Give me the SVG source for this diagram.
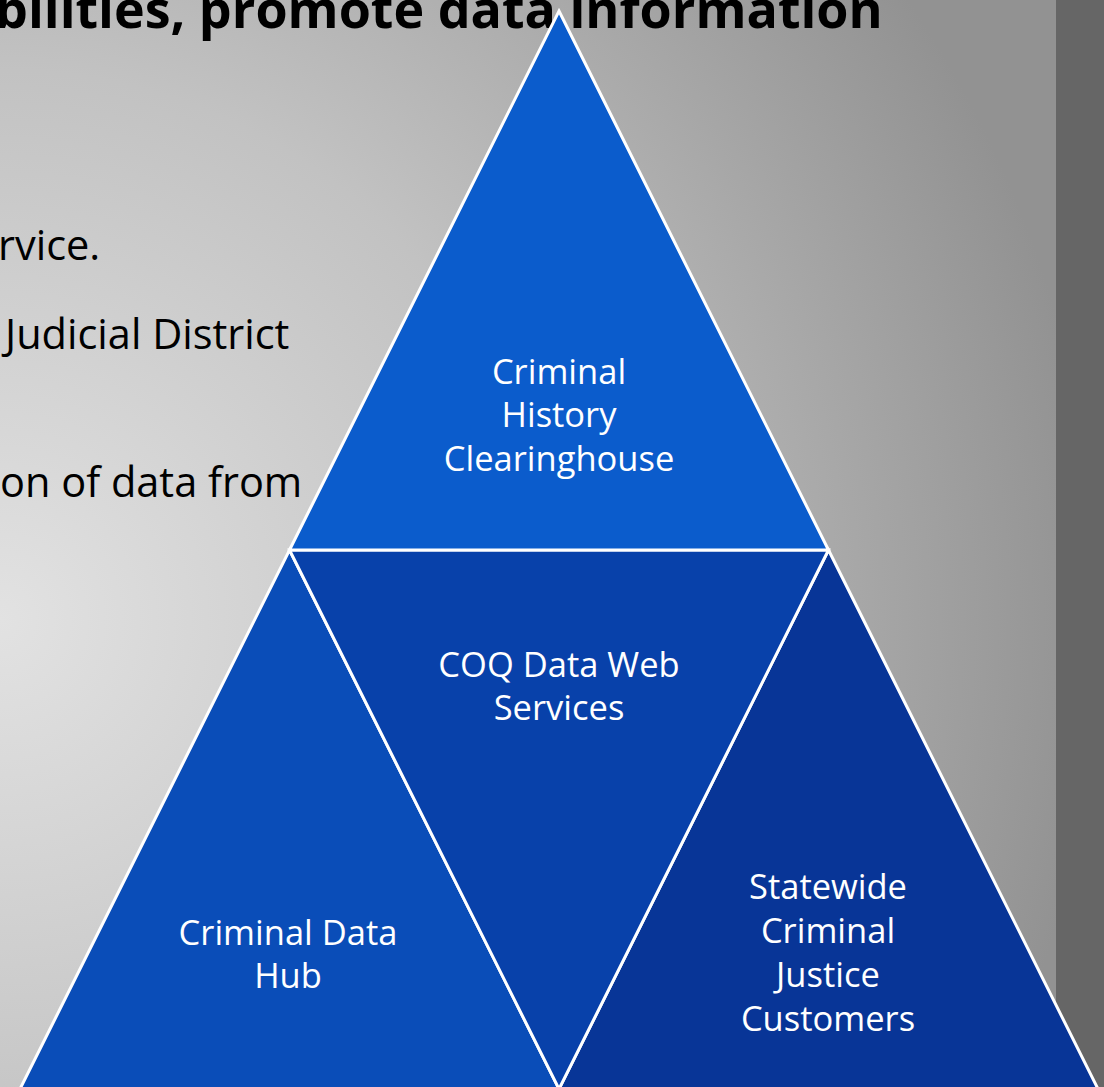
<svg xmlns="http://www.w3.org/2000/svg" width="1104" height="1087" viewBox="0 0 1104 1087">
<defs>
<radialGradient id="bg" cx="0" cy="620" r="1100" gradientUnits="userSpaceOnUse">
<stop offset="0" stop-color="#e2e2e2"/>
<stop offset="0.5" stop-color="#c2c2c2"/>
<stop offset="1" stop-color="#929292"/>
</radialGradient>
<style>
.tri{stroke:#ffffff;stroke-width:3;stroke-linejoin:miter}
.lbl{font-family:"Open Sans","Liberation Sans",sans-serif;font-size:34.5px;fill:#ffffff;text-anchor:middle}
.body{font-family:"Open Sans","Liberation Sans",sans-serif;font-size:41.5px;fill:#000000}
.title{font-family:"Open Sans","Liberation Sans",sans-serif;font-size:52px;font-weight:bold;fill:#000000}
</style>
</defs>
<rect x="0" y="0" width="1104" height="1087" fill="url(#bg)"/>
<rect x="1056" y="0" width="48" height="1087" fill="#666666"/>
<g id="slide-text">
<text class="title" x="-5" y="28">bilities, promote data information</text>
<text class="body" x="-2" y="260">rvice.</text>
<text class="body" x="5" y="349">Judicial District</text>
<text class="body" x="0" y="497">on of data from</text>
</g>
<g id="node-data-hub">
<polygon class="tri" points="289.5,550 559,1089 20,1089" fill="#0a4db8"/>
<text class="lbl" x="288" y="945">Criminal Data</text>
<text class="lbl" x="288" y="988">Hub</text>
</g>
<g id="node-customers">
<polygon class="tri" points="828.5,550 1098,1089 559,1089" fill="#083597"/>
<text class="lbl" x="828" y="899">Statewide</text>
<text class="lbl" x="828" y="943">Criminal</text>
<text class="lbl" x="828" y="987">Justice</text>
<text class="lbl" x="828" y="1031">Customers</text>
</g>
<g id="node-web-services">
<polygon class="tri" points="289.5,550 828.5,550 559,1089" fill="#0841aa"/>
<text class="lbl" x="559" y="677">COQ Data Web</text>
<text class="lbl" x="559" y="720">Services</text>
</g>
<g id="node-clearinghouse">
<polygon class="tri" points="559,11 828.5,550 289.5,550" fill="#0b5ccc"/>
<text class="lbl" x="559" y="384">Criminal</text>
<text class="lbl" x="559" y="427">History</text>
<text class="lbl" x="559" y="471">Clearinghouse</text>
</g>
<g id="connectors"/>
</svg>
